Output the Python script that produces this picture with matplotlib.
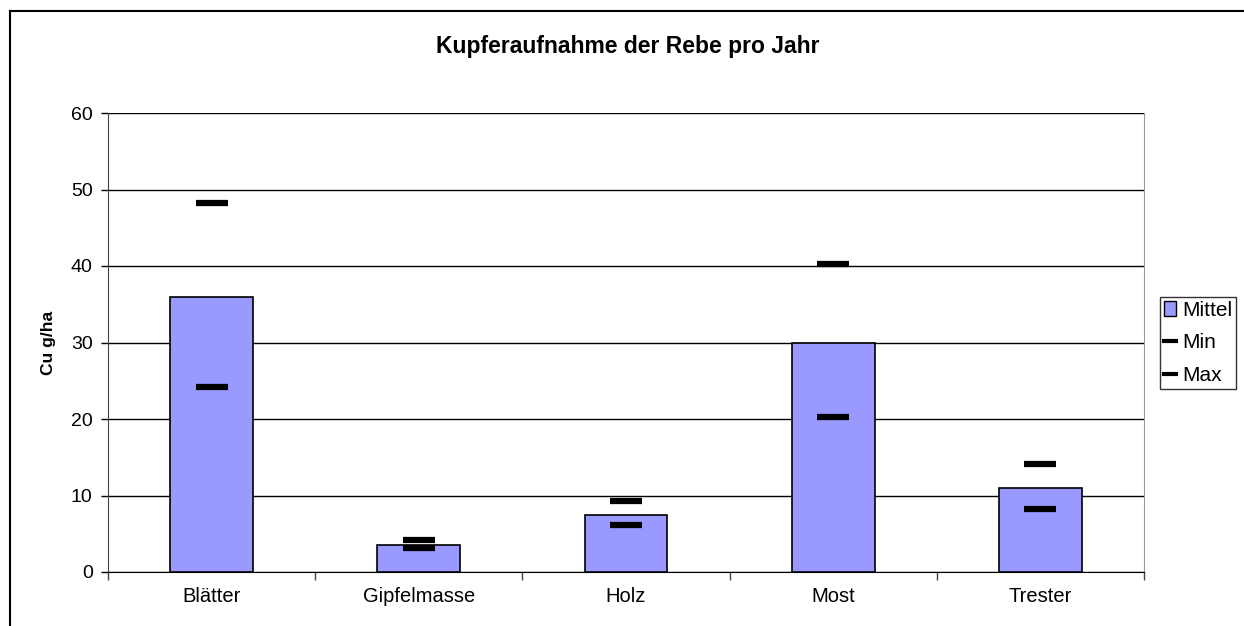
import matplotlib
matplotlib.use("Agg")
import matplotlib.pyplot as plt
from matplotlib.lines import Line2D
from matplotlib.patches import Patch
import numpy as np

plt.rcParams['font.family'] = ['Liberation Sans', 'DejaVu Sans']

categories = ["Blätter", "Gipfelmasse", "Holz", "Most", "Trester"]
mittel = [36, 3.5, 7.5, 30, 11]
minimum = [24.2, 3.2, 6.2, 20.2, 8.2]
maximum = [48.3, 4.2, 9.3, 40.2, 14.1]

W, H = 1244, 626
fig = plt.figure(figsize=(W / 100, H / 100), dpi=100)
ax = fig.add_axes([108 / W, (H - 572) / H, (1144 - 108) / W, (572 - 113) / H])

x = np.arange(len(categories))
ax.bar(x, mittel, width=0.4, color="#9999ff", edgecolor="black", linewidth=1.2, zorder=3)
ax.plot(x, minimum, ls="none", marker="_", ms=23, mew=4.5, color="black", zorder=4)
ax.plot(x, maximum, ls="none", marker="_", ms=23, mew=4.5, color="black", zorder=4)

ax.set_xlim(-0.5, len(categories) - 0.5)
ax.set_ylim(0, 60)
ax.set_yticks(range(0, 61, 10))
ax.yaxis.grid(True, color="black", linewidth=1)
ax.set_axisbelow(True)

ax.set_xticks(x)
ax.set_xticklabels(categories, fontsize=14.5)
ax.tick_params(axis="x", length=0, pad=11)
ax.set_xticks(np.arange(-0.5, len(categories), 1), minor=True)
ax.tick_params(axis="x", which="minor", length=6, width=1, direction="out", color="#444444")
ax.tick_params(axis="y", length=5, width=1, direction="out", labelsize=14, pad=6)

ax.spines["top"].set_visible(False)
ax.spines["right"].set_color("#999999")
ax.spines["left"].set_color("#444444")
ax.spines["bottom"].set_color("black")

ax.set_ylabel("Cu g/ha", fontsize=12.5, fontweight="bold", labelpad=11)

fig.text(628 / W, 1 - 47 / H, "Kupferaufnahme der Rebe pro Jahr", ha="center", va="center",
         fontsize=16.5, fontweight="bold")

handles = [Patch(facecolor="#9999ff", edgecolor="black"),
           Line2D([], [], color="black", lw=3),
           Line2D([], [], color="black", lw=3)]
leg = fig.legend(handles, ["Mittel", "Min", "Max"], loc="center left",
                 bbox_to_anchor=(1160 / W, 1 - 343 / H), frameon=True, fancybox=False,
                 fontsize=15, handlelength=0.55, handletextpad=0.3, borderpad=0.2,
                 labelspacing=0.65, borderaxespad=0)
leg.get_frame().set_edgecolor("black")
leg.get_frame().set_linewidth(1)

# outer chart border (only left and top visible in the crop)
fig.add_artist(Line2D([10 / W, 10 / W], [0, 1 - 11 / H], color="black", lw=1.5))
fig.add_artist(Line2D([10 / W, 1], [1 - 11 / H, 1 - 11 / H], color="black", lw=1.5))

fig.savefig("out.png", dpi=100)
